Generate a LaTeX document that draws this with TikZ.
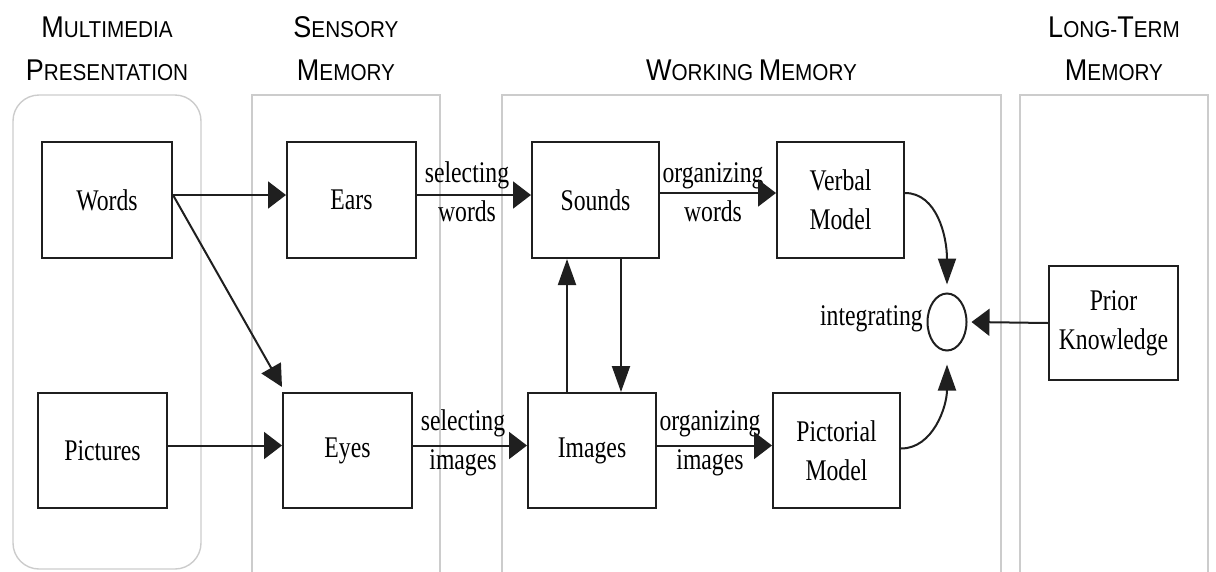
\documentclass[tikz,border=0pt]{standalone}
\usepackage{fontspec}
\setmainfont{Liberation Serif}
\newfontfamily\boxfont[FakeStretch=0.79]{Liberation Serif}
\newfontfamily\headfont[FakeStretch=0.9]{Liberation Sans}
\usetikzlibrary{arrows.meta,shapes.geometric}
% hand-made small capitals for the column titles
\newcommand\capL[1]{{\fontsize{30}{30}\selectfont #1}}
\newcommand\capS[1]{{\fontsize{23}{23}\selectfont #1}}

\tikzset{
  panel/.style={draw=black!20, line width=1.4pt},
  blk/.style={draw=black!88, line width=2pt, font=\boxfont\fontsize{30}{39}\selectfont,
              align=center, inner sep=0pt, text=black},
  lbl/.style={font=\boxfont\fontsize{30}{39}\selectfont, align=center, inner sep=0pt, text=black},
  head/.style={font=\headfont, anchor=base, inner sep=0pt, text=black},
  harr/.style={draw=black!88, line width=2pt, -{Triangle[length=18pt,width=27pt]}},
  varr/.style={draw=black!88, line width=2pt, -{Triangle[length=26pt,width=18pt]}},
  darr/.style={draw=black!88, line width=2pt, -{Triangle[length=22pt,width=22pt]}},
}

\begin{document}
\begin{tikzpicture}[x=1pt,y=-1pt]
\useasboundingbox (0,0) rectangle (1216,571);
\clip (0,0) rectangle (1216,571);

% column panels
\draw[panel, rounded corners=26pt] (13,95) rectangle (201,569);
\draw[panel] (252,580) -- (252,95) -- (440,95) -- (440,580);
\draw[panel] (502,580) -- (502,95) -- (1001,95) -- (1001,580);
\draw[panel] (1020,580) -- (1020,95) -- (1208,95) -- (1208,580);

% column titles
\node[head] (h1a) at (107,37) {\capL{M}\capS{ULTIMEDIA}};
\node[head] (h1b) at (107,80) {\capL{P}\capS{RESENTATION}};
\node[head] (h2a) at (346,37) {\capL{S}\capS{ENSORY}};
\node[head] (h2b) at (346,80) {\capL{M}\capS{EMORY}};
\node[head] (h3)  at (751.5,80) {\capL{W}\capS{ORKING\ }\capL{M}\capS{EMORY}};
\node[head] (h4a) at (1114,37) {\capL{L}\capS{ONG-}\capL{T}\capS{ERM}};
\node[head] (h4b) at (1114,80) {\capL{M}\capS{EMORY}};

% boxes
\node[blk, minimum width=130pt, minimum height=116pt] (words)    at (107,200)     {Words};
\node[blk, minimum width=129pt, minimum height=115pt] (pictures) at (102.5,450.5) {Pictures};
\node[blk, minimum width=129pt, minimum height=116pt] (ears)     at (351.5,200)   {Ears};
\node[blk, minimum width=129pt, minimum height=115pt] (eyes)     at (347.5,450.5) {Eyes};
\node[blk, minimum width=127pt, minimum height=116pt] (sounds)   at (595.5,200)   {Sounds};
\node[blk, minimum width=128pt, minimum height=115pt] (images)   at (592,450.5)   {Images};
\node[blk, minimum width=127pt, minimum height=116pt] (verbal)   at (840.5,200)   {Verbal\\Model};
\node[blk, minimum width=127pt, minimum height=115pt] (pictorial) at (836.5,450.5) {Pictorial\\Model};
\node[blk, minimum width=129pt, minimum height=114pt] (prior)    at (1113.5,323)  {Prior\\Knowledge};
\node[blk, ellipse, minimum width=39pt, minimum height=57pt] (integ) at (947,322) {};
\node[lbl, anchor=east] (integlbl) at (923,319) {integrating};

% process labels
\node[lbl] (l1) at (467,192) {selecting\\words};
\node[lbl] (l2) at (713,192) {organizing\\words};
\node[lbl] (l3) at (463,443) {selecting\\images};
\node[lbl] (l4) at (710,443) {organizing\\images};

% connectors
\draw[harr] ([yshift=5pt]words.east) -- ([yshift=5pt]ears.west);
\draw[darr] ([yshift=5pt]words.east) -- ([yshift=5pt]eyes.north west);
\draw[harr] ([yshift=5pt]pictures.east) -- ([yshift=5pt]eyes.west);
\draw[harr] ([yshift=5pt]ears.east) -- ([yshift=5pt]sounds.west);
\draw[harr] ([yshift=7pt]sounds.east) -- ([yshift=7pt]verbal.west);
\draw[harr] ([yshift=5pt]eyes.east) -- ([yshift=5pt]images.west);
\draw[harr] ([yshift=5pt]images.east) -- ([yshift=5pt]pictorial.west);
\draw[varr] ([xshift=-25pt]images.north) -- ([xshift=-25pt]images.north |- sounds.south);
\draw[varr] ([xshift=25.5pt]sounds.south) -- ([xshift=25.5pt]sounds.south |- images.north);
\draw[varr] ([yshift=7pt]verbal.east) .. controls +(32,0) and +(0,-48) .. ([yshift=8pt]integ.north);
\draw[varr] ([yshift=2pt]pictorial.east) .. controls +(32,0) and +(0,42) .. ([yshift=-13pt]integ.south);
\draw[harr] (prior.west) -- ([xshift=4pt]integ.east);
\end{tikzpicture}
\end{document}
